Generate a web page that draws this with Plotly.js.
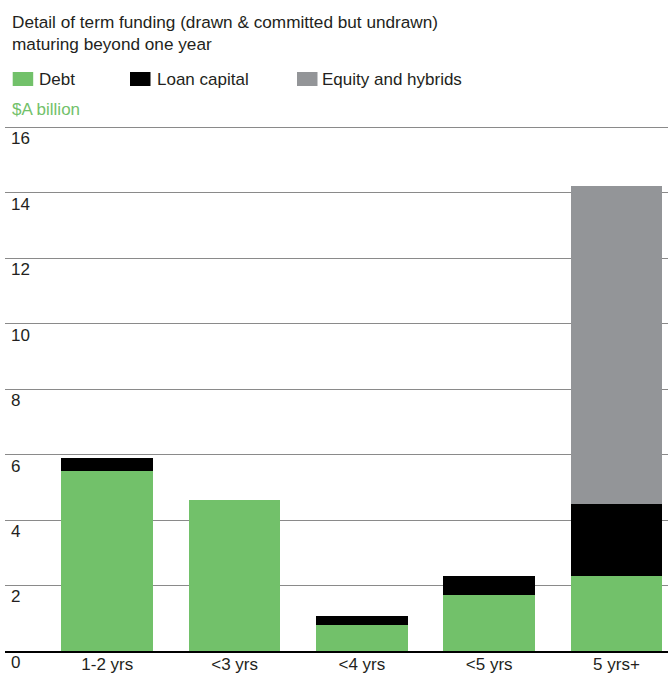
<!DOCTYPE html>
<html>
<head>
<meta charset="utf-8">
<script src="https://cdn.plot.ly/plotly-3.0.1.min.js"></script>
<style>html,body{margin:0;padding:0;background:#fff;}#chart{width:668px;height:673px;}</style>
</head>
<body>
<div id="chart"></div>
<script>
// ---- data ----
const categories = ['1-2 yrs', '<3 yrs', '<4 yrs', '<5 yrs', '5 yrs+'];
const debt = [5.5, 4.6, 0.8, 1.7, 2.3];
const loanCapital = [0.4, 0, 0.27, 0.58, 2.2];
const equityHybrids = [0, 0, 0, 0, 9.7];
const seriesNames = ['Debt', 'Loan capital', 'Equity and hybrids'];
const seriesColors = ['#72c16a', '#000000', '#939598'];
const yTickValues = [0, 2, 4, 6, 8, 10, 12, 14, 16];
const yTickLabels = ['0', '2', '4', '6', '8', '10', '12', '14', '16'];
const titleText = 'Detail of term funding (drawn &amp; committed but undrawn)<br>maturing beyond one year';
const unitText = '$A billion';

// ---- layout geometry ----
const W = 668, H = 673;
const M = {l: 5, r: 0, t: 124, b: 22, pad: 0};
const pw = W - M.l - M.r, ph = H - M.t - M.b;
const xp = px => (px - M.l) / pw;
const yp = py => (H - M.b - py) / ph;
const FONT = 'Liberation Sans, Arial, Helvetica, sans-serif';
const TXT = '#231f20';

const seriesValues = [debt, loanCapital, equityHybrids];
const traces = seriesValues.map((vals, i) => ({
  type: 'bar',
  x: categories,
  y: vals,
  name: seriesNames[i],
  marker: {color: seriesColors[i], line: {width: 0}},
  showlegend: false,
  hoverinfo: 'x+y+name'
}));

// legend drawn as swatches + labels
const legendSwatchX = [12.7, 130, 297];
const legendTextX = [37, 155, 320];
const shapes = [];
const annotations = [];
seriesNames.forEach((n, i) => {
  shapes.push({
    type: 'rect', xref: 'paper', yref: 'paper',
    x0: xp(legendSwatchX[i]), x1: xp(legendSwatchX[i] + 20.5),
    y0: yp(86), y1: yp(72),
    fillcolor: seriesColors[i], line: {width: 0}
  });
  annotations.push({
    xref: 'paper', yref: 'paper', x: xp(legendTextX[i]), y: yp(79.5),
    xanchor: 'left', yanchor: 'middle', showarrow: false,
    text: n, font: {family: FONT, size: 17, color: TXT}
  });
});
annotations.push({
  xref: 'paper', yref: 'paper', x: xp(10), y: yp(110),
  xanchor: 'left', yanchor: 'middle', showarrow: false,
  text: unitText, font: {family: FONT, size: 17, color: '#72c16a'}
});

const layout = {
  width: W, height: H,
  margin: M,
  paper_bgcolor: '#ffffff', plot_bgcolor: '#ffffff',
  barmode: 'stack',
  bargap: 0.28,
  showlegend: false,
  font: {family: FONT, size: 17, color: TXT},
  title: {
    text: titleText,
    xref: 'container', yref: 'container',
    x: 12 / W, xanchor: 'left',
    y: 1 - 28 / H, yanchor: 'top',
    font: {family: FONT, size: 17.2, color: TXT}
  },
  xaxis: {
    type: 'category',
    range: [(5 - 107.3) / 127.3, (668 - 107.3) / 127.3],
    showgrid: false, zeroline: false,
    showline: true, linecolor: '#000000', linewidth: 2,
    ticks: '', ticklen: 0,
    ticklabelstandoff: -3,
    tickfont: {family: FONT, size: 17, color: TXT},
    fixedrange: true
  },
  yaxis: {
    range: [0, 16.1],
    tickmode: 'array', tickvals: yTickValues, ticktext: yTickLabels,
    showgrid: true, gridcolor: '#8a8a8a', gridwidth: 1,
    zeroline: false, showline: false,
    ticks: '',
    ticklabelposition: 'inside',
    ticklabeloverflow: 'allow',
    ticklabelshift: 11,
    ticklabelstandoff: 3,
    tickfont: {family: FONT, size: 17, color: TXT},
    fixedrange: true
  },
  shapes: shapes,
  annotations: annotations
};

Plotly.newPlot('chart', traces, layout, {displayModeBar: false, staticPlot: true});
</script>
</body>
</html>
